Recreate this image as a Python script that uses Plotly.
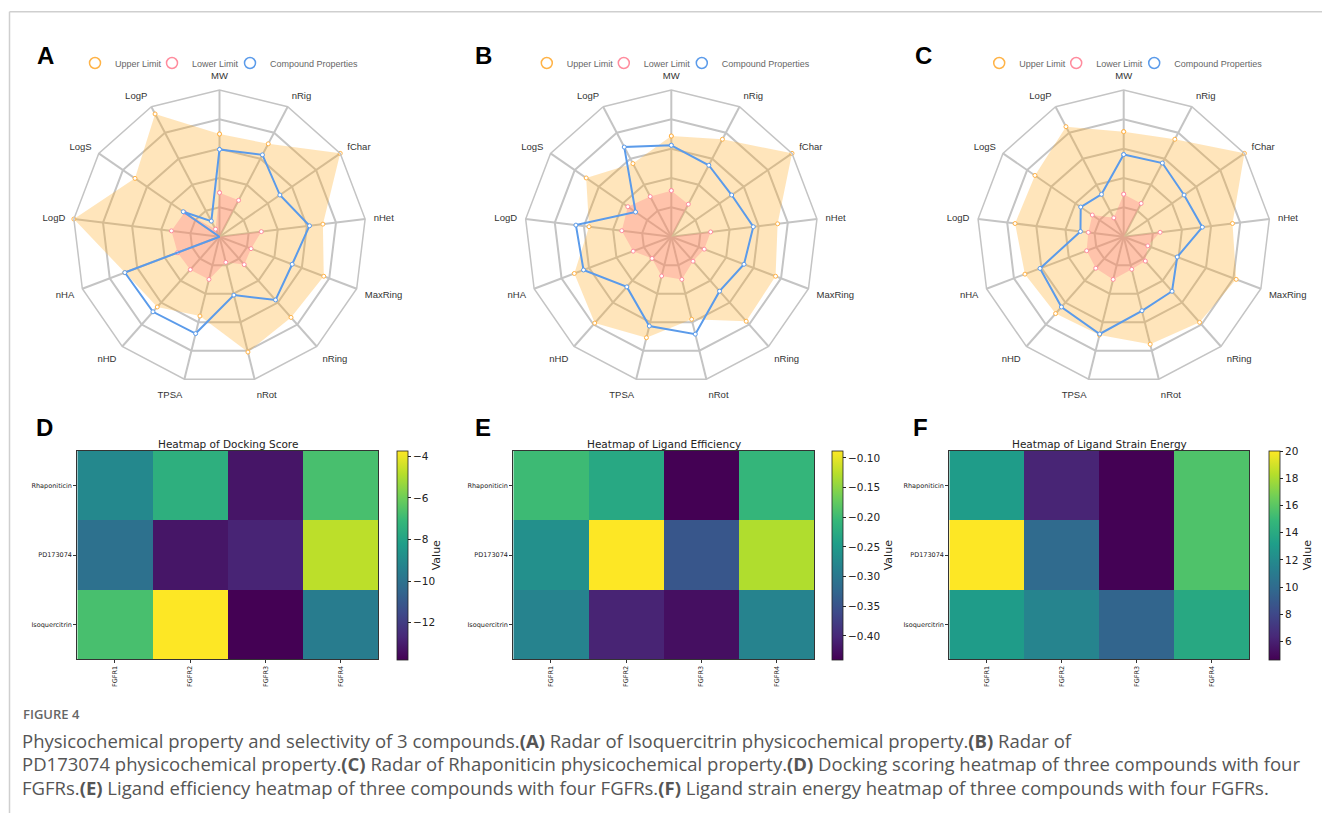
import plotly.graph_objects as go

# ---------------- data ----------------
AXES = ["MW", "nRig", "fChar", "nHet", "MaxRing", "nRing", "nRot",
        "TPSA", "nHD", "nHA", "LogD", "LogS", "LogP"]

# (A) Isoquercitrin
A_upper = [0.70, 0.715, 1.00, 0.71, 0.76, 0.735, 0.81, 0.557, 0.64, 0.69, 1.00, 0.70, 0.945]
A_lower = [0.30, 0.28, 0.00, 0.287, 0.23, 0.254, 0.18, 0.30, 0.30, 0.306, 0.33, 0.29, 0.058]
A_comp = [0.595, 0.63, 0.50, 0.618, 0.53, 0.576, 0.41, 0.68, 0.684, 0.69, 0.00, 0.30, 0.12]

# (B) PD173074
B_upper = [0.686, 0.75, 1.00, 0.73, 0.76, 0.77, 0.58, 0.709, 0.787, 0.707, 0.565, 0.705, 0.563]
B_lower = [0.314, 0.25, 0.00, 0.27, 0.24, 0.223, 0.30, 0.276, 0.198, 0.278, 0.34, 0.36, 0.309]
B_comp = [0.623, 0.55, 0.50, 0.563, 0.53, 0.496, 0.684, 0.627, 0.457, 0.64, 0.655, 0.296, 0.69]

# (C) Rhaponiticin
C_upper = [0.716, 0.75, 1.00, 0.747, 0.82, 0.78, 0.755, 0.69, 0.70, 0.72, 0.746, 0.735, 0.847]
C_lower = [0.29, 0.256, 0.00, 0.25, 0.176, 0.222, 0.229, 0.30, 0.287, 0.27, 0.243, 0.26, 0.145]
C_comp = [0.56, 0.567, 0.50, 0.54, 0.39, 0.497, 0.52, 0.683, 0.64, 0.61, 0.297, 0.356, 0.326]

TARGETS = ["FGFR1", "FGFR2", "FGFR3", "FGFR4"]
COMPOUNDS = ["Rhaponiticin", "PD173074", "Isoquercitrin"]

docking = [[-9.06, -7.45, -13.20, -6.70],
           [-10.06, -13.18, -12.77, -4.74],
           [-6.70, -3.73, -13.78, -9.56]]
efficiency = [[-0.200, -0.229, -0.440, -0.208],
              [-0.264, -0.088, -0.345, -0.130],
              [-0.282, -0.405, -0.426, -0.282]]
strain = [[13.1, 6.2, 4.64, 15.7],
          [20.05, 10.0, 4.70, 15.7],
          [13.1, 11.6, 9.6, 13.9]]

LEGEND_NAMES = ["Upper Limit", "Lower Limit", "Compound Properties"]

# ---------------- styling ----------------
W, H = 1322, 818
ORANGE = "#FFB347"
ORANGE_FILL = "rgba(255,170,30,0.30)"
PINK = "#FF8C9E"
PINK_FILL = "rgba(255,120,135,0.31)"
BLUE = "#5B9BEA"
GRID = "#c4c4c4"
LABEL_FONT = "Liberation Sans, Arial, sans-serif"
MPL_FONT = "DejaVu Sans, sans-serif"


def fx(px):
    return px / W


def fy(py):
    return 1 - py / H


def closed(v):
    return list(v) + [v[0]]


theta = closed(AXES)

fig = go.Figure()

CY, R = 236.7, 146.7
radars = [
    ("polar", "legend", A_upper, A_lower, A_comp, 219.5),
    ("polar2", "legend2", B_upper, B_lower, B_comp, 671.3),
    ("polar3", "legend3", C_upper, C_lower, C_comp, 1123.7),
]

polar_layouts = {}
legend_layouts = {}
for sub, leg, up, lo, cp, cx in radars:
    fig.add_trace(go.Scatterpolar(
        r=closed(up), theta=theta, subplot=sub, mode="lines+markers",
        fill="toself", fillcolor=ORANGE_FILL, line=dict(width=0, color=ORANGE),
        marker=dict(symbol="circle", size=4, color="white", line=dict(color=ORANGE, width=1)),
        showlegend=False, hoverinfo="skip"))
    fig.add_trace(go.Scatterpolar(
        r=closed(lo), theta=theta, subplot=sub, mode="lines+markers",
        fill="toself", fillcolor=PINK_FILL, line=dict(width=0, color=PINK),
        marker=dict(symbol="circle", size=4, color="white", line=dict(color=PINK, width=1)),
        showlegend=False, hoverinfo="skip"))
    fig.add_trace(go.Scatterpolar(
        r=closed(cp), theta=theta, subplot=sub, mode="lines+markers",
        line=dict(width=2, color=BLUE),
        marker=dict(symbol="circle", size=4, color="white", line=dict(color=BLUE, width=1)),
        showlegend=False, hoverinfo="skip"))
    # legend entries (hollow circle icons)
    for name, col, lw in zip(LEGEND_NAMES, [ORANGE, PINK, BLUE], [32, 33, None]):
        kw = dict(legendwidth=lw) if lw else {}
        fig.add_trace(go.Scatterpolar(
            r=[None], theta=[None], subplot=sub, mode="markers", name=name,
            marker=dict(symbol="circle-open", size=11, color=col, line=dict(width=1.5)),
            legend=leg, showlegend=True, hoverinfo="skip", **kw))

    polar_layouts[sub] = dict(
        domain=dict(x=[fx(cx - R), fx(cx + R)], y=[fy(CY + R), fy(CY - R)]),
        bgcolor="white",
        gridshape="linear",
        radialaxis=dict(range=[0, 1], tickvals=[0.2, 0.4, 0.6, 0.8, 1.0],
                        showticklabels=False, ticks="", showline=False,
                        gridcolor=GRID, gridwidth=1.5),
        angularaxis=dict(type="category", categoryorder="array", categoryarray=AXES,
                         rotation=90, direction="clockwise", showline=True,
                         linecolor=GRID, linewidth=1.5, gridcolor=GRID, gridwidth=1.5,
                         ticks="outside", ticklen=6, tickcolor="rgba(0,0,0,0)",
                         tickfont=dict(size=9.5, color="#333", family=LABEL_FONT)),
    )
    legend_layouts[leg] = dict(
        orientation="h", x=fx(cx), y=fy(63), xanchor="center", yanchor="middle",
        font=dict(size=9, color="#666", family=LABEL_FONT), bgcolor="rgba(0,0,0,0)",
        itemwidth=30, itemclick=False, itemdoubleclick=False)

# ---------------- heatmaps ----------------
heat_specs = [
    ("x", "y", docking, "Heatmap of Docking Score", 77.3, 378.3, 396.7,
     [-4, -6, -8, -10, -12], None),
    ("x2", "y2", efficiency, "Heatmap of Ligand Efficiency", 513.3, 814.0, 832.3,
     [-0.10, -0.15, -0.20, -0.25, -0.30, -0.35, -0.40], ".2f"),
    ("x3", "y3", strain, "Heatmap of Ligand Strain Energy", 949.3, 1249.3, 1269.0,
     [6, 8, 10, 12, 14, 16, 18, 20], None),
]
HY0, HY1 = 450.7, 659.3
annotations = []
axis_layouts = {}
for xa, ya, z, title, x0, x1, cbx, tv, tf in heat_specs:
    cb = dict(x=fx(cbx), xanchor="left", y=fy(HY0), yanchor="top",
              len=(HY1 - HY0) / H, lenmode="fraction", thickness=11,
              thicknessmode="pixels", xpad=0, ypad=0, outlinewidth=0.8,
              outlinecolor="#222", ticks="outside", ticklen=3, tickwidth=0.8,
              tickcolor="#222", tickvals=tv,
              tickfont=dict(size=10.5, family=MPL_FONT, color="#222"),
              title=dict(text="Value", side="right", font=dict(size=11, family=MPL_FONT, color="#222")))
    if tf:
        cb["tickformat"] = tf
    fig.add_trace(go.Heatmap(z=z, x=TARGETS, y=COMPOUNDS, xaxis=xa, yaxis=ya,
                             colorscale="Viridis", colorbar=cb, hoverinfo="skip"))
    xname = "xaxis" + xa[1:]
    yname = "yaxis" + ya[1:]
    axis_common = dict(showline=True, mirror=True, linecolor="#333", linewidth=1,
                       showgrid=False, zeroline=False, ticks="outside", ticklen=3,
                       tickwidth=0.8, tickcolor="#333",
                       tickfont=dict(size=6.5, family=MPL_FONT, color="#222"))
    axis_layouts[xname] = dict(domain=[fx(x0), fx(x1)], anchor=ya, tickangle=-90, **axis_common)
    axis_layouts[yname] = dict(domain=[fy(HY1), fy(HY0)], anchor=xa, autorange="reversed", **axis_common)
    annotations.append(dict(text=title, x=fx((x0 + x1) / 2), y=fy(444), xref="paper", yref="paper",
                            xanchor="center", yanchor="middle", showarrow=False,
                            font=dict(size=10.5, family=MPL_FONT, color="#222")))

# panel letters
for letter, cx, cy in [("A", 45, 55.5), ("B", 483, 55.5), ("C", 923, 55.5),
                       ("D", 44, 427.5), ("E", 482.5, 427.5), ("F", 920, 427.5)]:
    annotations.append(dict(text=letter, x=fx(cx), y=fy(cy), xref="paper", yref="paper",
                            xanchor="center", yanchor="middle", showarrow=False,
                            font=dict(size=24, family=LABEL_FONT, color="black", weight="bold")))

# caption
CAP_FONT = "Open Sans, Noto Sans, sans-serif"
caption_lines = [
    "Physicochemical property and selectivity of 3 compounds.<b>(A)</b> Radar of Isoquercitrin physicochemical property.<b>(B)</b> Radar of",
    "PD173074 physicochemical property.<b>(C)</b> Radar of Rhaponiticin physicochemical property.<b>(D)</b> Docking scoring heatmap of three compounds with four",
    "FGFRs.<b>(E)</b> Ligand efficiency heatmap of three compounds with four FGFRs.<b>(F)</b> Ligand strain energy heatmap of three compounds with four FGFRs.",
]
annotations.append(dict(text="FIGURE 4", x=fx(21), y=fy(714), xref="paper", yref="paper",
                        xanchor="left", yanchor="middle", showarrow=False,
                        font=dict(size=13, family=CAP_FONT, color="#666", weight=600)))
for i, line in enumerate(caption_lines):
    annotations.append(dict(text=line, x=fx(20), y=fy(740 + 23.5 * i), xref="paper", yref="paper",
                            xanchor="left", yanchor="middle", showarrow=False,
                            font=dict(size=18.5, family=CAP_FONT, color="#555")))

shapes = [
    dict(type="line", xref="paper", yref="paper", x0=fx(9.5), x1=1, y0=fy(11.7), y1=fy(11.7),
         line=dict(color="#cfcfcf", width=1.5)),
    dict(type="line", xref="paper", yref="paper", x0=fx(9.5), x1=fx(9.5), y0=fy(11.7), y1=fy(813),
         line=dict(color="#cfcfcf", width=1.5)),
]

fig.update_layout(
    width=W, height=H, autosize=False,
    margin=dict(l=0, r=0, t=0, b=0),
    paper_bgcolor="white", plot_bgcolor="white",
    annotations=annotations, shapes=shapes,
    **polar_layouts, **legend_layouts, **axis_layouts,
)

fig.write_html("out.html")
